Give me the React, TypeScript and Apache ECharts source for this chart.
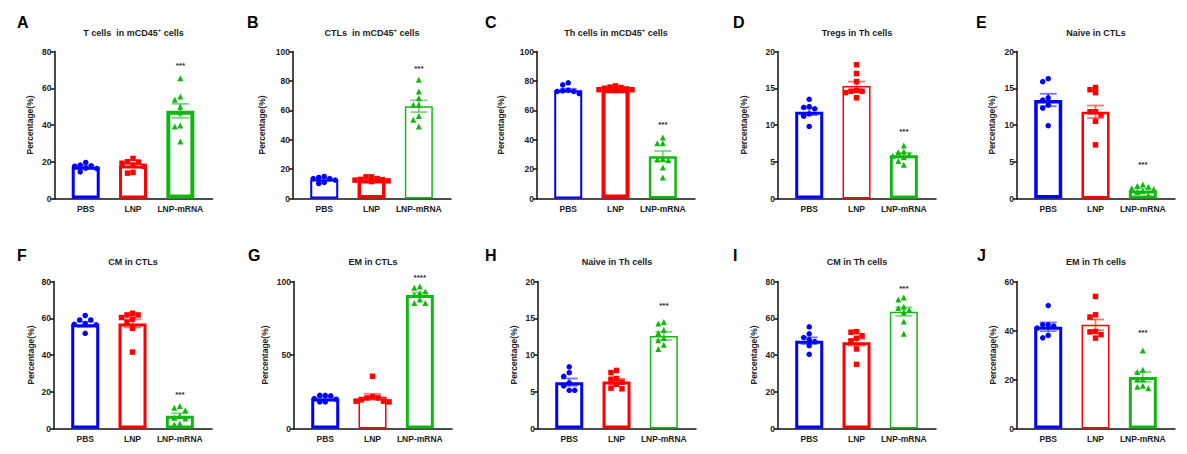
import React, { useEffect, useRef } from "react";
import * as echarts from "echarts";

const groups = ["PBS", "LNP", "LNP-mRNA"];
const groupColors = ["#0000ff", "#ff0000", "#12b812"];
const groupSymbols = ["circle", "rect", "triangle"];

const letters = ["A", "B", "C", "D", "E", "F", "G", "H", "I", "J"];
const titles = [
  "T cells  in mCD45{sup|+} cells",
  "CTLs  in mCD45{sup|+} cells",
  "Th cells in mCD45{sup|+} cells",
  "Tregs in Th cells",
  "Naive in CTLs",
  "CM in CTLs",
  "EM in CTLs",
  "Naive in Th cells",
  "CM in Th cells",
  "EM in Th cells",
];
const yMaxes = [80, 100, 100, 20, 20, 80, 100, 20, 80, 60];
const ySteps = [20, 20, 20, 5, 5, 20, 50, 5, 20, 20];
const yName = "Percentage(%)";

// Individual points per panel: [PBS, LNP, LNP-mRNA]
const pointsA = [
  [18.2, 16.3, 14.5, 17.8, 19.6, 16.5, 17.6],
  [19.8, 21.8, 13.8, 14.2, 19.2, 20.0, 18.2, 17.5],
  [65.5, 53.7, 55.5, 50.0, 46.8, 39.2, 39.7, 31.0],
];
const pointsB = [
  [15.0, 10.2, 13.6, 14.3, 10.9, 13.6, 12.5],
  [14.7, 12.0, 13.0, 13.5, 12.5, 14.7, 11.5, 12.8],
  [80.7, 72.8, 68.3, 63.7, 63.7, 56.2, 53.5, 49.0],
];
const pointsC = [
  [78.7, 77.3, 72.8, 73.7, 73.2, 72.8, 71.4],
  [76.6, 75.0, 74.0, 75.5, 73.5, 74.5, 75.8, 74.0],
  [41.5, 37.6, 37.6, 26.8, 26.5, 26.0, 21.1, 14.3],
];
const pointsD = [
  [13.5, 12.5, 12.4, 12.2, 11.5, 11.2, 9.8],
  [18.2, 17.0, 15.9, 14.7, 14.6, 14.4, 14.6, 13.7],
  [7.2, 6.4, 6.3, 6.0, 5.8, 5.6, 5.1, 4.6],
];
const pointsE = [
  [16.3, 15.9, 13.7, 13.4, 12.7, 12.3, 9.9],
  [15.1, 14.8, 14.4, 11.8, 11.8, 11.4, 10.5, 7.3],
  [1.9, 1.6, 1.4, 1.0, 0.9, 0.45, 1.3, 1.7],
];
const pointsF = [
  [61.5, 59.1, 59.1, 57.1, 56.7, 56.4, 51.8],
  [62.7, 61.8, 61.8, 60.4, 59.5, 57.8, 54.5, 41.6],
  [12.2, 11.3, 10.0, 6.9, 5.8, 5.5, 2.2, 2.7],
];
const pointsG = [
  [22.6, 22.2, 22.6, 20.4, 19.9, 18.1, 18.1],
  [35.5, 21.5, 20.8, 20.8, 18.6, 18.6, 18.1, 19.5],
  [96.6, 95.7, 93.2, 92.1, 91.0, 87.8, 85.3, 85.3],
];
const pointsH = [
  [8.4, 7.6, 7.1, 6.2, 5.8, 5.2, 5.2],
  [7.9, 7.6, 6.8, 6.7, 6.3, 6.0, 5.4, 5.5],
  [14.5, 14.3, 13.4, 13.0, 12.3, 12.0, 11.4, 10.8],
];
const pointsI = [
  [55.3, 51.5, 49.5, 48.2, 47.3, 45.1, 40.4],
  [52.7, 52.4, 50.5, 49.1, 47.6, 43.3, 34.9],
  [71.3, 70.2, 66.2, 65.6, 64.5, 63.3, 58.2, 51.6],
];
const pointsJ = [
  [50.2, 42.3, 42.3, 41.8, 41.0, 38.0, 37.0],
  [53.9, 46.4, 45.5, 39.6, 39.4, 38.3, 36.9],
  [31.8, 24.0, 23.1, 20.1, 20.1, 17.4, 17.0, 16.4],
];
const allPoints = [pointsA, pointsB, pointsC, pointsD, pointsE, pointsF, pointsG, pointsH, pointsI, pointsJ];

// Bar means and SEM per panel
const means = [
  [17.3, 18.0, 47.7],
  [12.9, 12.6, 62.8],
  [73.7, 74.4, 28.8],
  [11.8, 15.3, 5.9],
  [13.4, 11.8, 1.1],
  [56.7, 57.2, 6.9],
  [20.4, 21.6, 90.9],
  [6.3, 6.4, 12.6],
  [47.8, 46.9, 63.6],
  [41.5, 42.3, 21.0],
];
const sems = [
  [0.7, 1.0, 3.8],
  [0.7, 0.5, 4.0],
  [1.0, 0.5, 3.5],
  [0.45, 0.6, 0.3],
  [0.85, 0.85, 0.25],
  [1.4, 2.2, 1.4],
  [0.7, 2.0, 1.5],
  [0.5, 0.35, 0.55],
  [1.8, 1.8, 2.3],
  [1.8, 2.2, 2.0],
];
const starY = [72.5, 88.4, 50.6, 9.1, 4.6, 18.5, 102.7, 16.8, 76.4, 39.3];
const starText = ["***", "***", "***", "***", "***", "***", "****", "***", "***", "***"];

// Layout / style
const gridLefts = [54.5, 293, 537, 778, 1017, 54, 294, 538, 778, 1017];
const gridW = 158;
const rowTops = [51.5, 281.5];
const gridH = 147;
const xMin = -0.66;
const xMax = 2.68;
const nameGaps = [20, 27, 32, 30, 21, 19, 25, 20, 20, 20];
const borderWidths = [
  [3, 3, 4], [2, 3.5, 1.5], [2, 4, 2.5], [3, 1.5, 3], [3.5, 2.5, 3],
  [3, 3, 3], [3, 1.5, 3], [3, 3, 1.5], [3, 3, 1.5], [3, 1.5, 3],
];
const letterX = [17, 247, 485, 733, 976, 17, 248, 485, 733, 977];
const letterY = [14, 247];
const titleY = [33, 262];
const FONT = "Arial, 'Liberation Sans', sans-serif";

// Deterministic beeswarm layout so overlapping dots spread sideways
function swarmOffsets(values: number[], yMax: number): number[] {
  const pxPerX = gridW / (xMax - xMin);
  const pxPerY = gridH / yMax;
  const order = values.map((_, i) => i).sort((a, b) => values[b] - values[a]);
  const placed: { dx: number; v: number }[] = [];
  const offs = new Array(values.length).fill(0);
  const cands = [0, -1, 1, -2, 2, -3, 3];
  const step = 5.5;
  const minDist = 5;
  for (const i of order) {
    let best = 0;
    let bestD = -1;
    for (const c of cands) {
      const dx = c * step;
      let d = Infinity;
      for (const p of placed) d = Math.min(d, Math.hypot(p.dx - dx, (p.v - values[i]) * pxPerY));
      if (d >= minDist) {
        best = dx;
        bestD = Infinity;
        break;
      }
      if (d > bestD) {
        bestD = d;
        best = dx;
      }
    }
    offs[i] = best / pxPerX;
    placed.push({ dx: best, v: values[i] });
  }
  return offs;
}

function buildOption() {
  const grid: any[] = [];
  const xAxis: any[] = [];
  const yAxis: any[] = [];
  const series: any[] = [];
  const graphic: any[] = [];

  for (let p = 0; p < 10; p++) {
    const row = p < 5 ? 0 : 1;
    grid.push({ left: gridLefts[p], top: rowTops[row], width: gridW, height: gridH });
    xAxis.push({
      type: "value",
      gridIndex: p,
      min: xMin,
      max: xMax,
      splitLine: { show: false },
      axisLine: { show: true, onZero: false, lineStyle: { color: "#111", width: 1.5 } },
      axisTick: { show: false },
      axisLabel: {
        customValues: [0, 1, 2],
        formatter: (v: number) => groups[Math.round(v)] ?? "",
        margin: 6,
        color: "#222",
        fontSize: 8.5,
        fontWeight: "bold",
        fontFamily: FONT,
      },
    });
    yAxis.push({
      type: "value",
      gridIndex: p,
      min: 0,
      max: yMaxes[p],
      interval: ySteps[p],
      name: yName,
      nameLocation: "middle",
      nameGap: nameGaps[p],
      nameTextStyle: { color: "#222", fontSize: 8.5, fontWeight: "bold", fontFamily: FONT },
      splitLine: { show: false },
      axisLine: { show: true, onZero: false, lineStyle: { color: "#111", width: 1.5 } },
      axisTick: { show: true, length: 4, lineStyle: { color: "#111", width: 1.5 } },
      axisLabel: { margin: 3, color: "#222", fontSize: 8.5, fontWeight: "bold", fontFamily: FONT },
    });

    // Bars
    series.push({
      type: "bar",
      xAxisIndex: p,
      yAxisIndex: p,
      barWidth: 28,
      z: 2,
      data: groups.map((_, i) => ({
        value: [i, means[p][i]],
        itemStyle: { color: "#ffffff", borderColor: groupColors[i], borderWidth: borderWidths[p][i] },
      })),
    });

    // Points
    groups.forEach((_, i) => {
      const vals = allPoints[p][i];
      const offs = swarmOffsets(vals, yMaxes[p]);
      series.push({
        type: "scatter",
        xAxisIndex: p,
        yAxisIndex: p,
        symbol: groupSymbols[i],
        symbolSize: i === 2 ? 6 : 5.5,
        z: 3,
        itemStyle: { color: groupColors[i], opacity: 1 },
        data: vals.map((v, k) => [i + offs[k], v]),
      });
    });

    // Error bars (mean ± SEM)
    series.push({
      type: "custom",
      xAxisIndex: p,
      yAxisIndex: p,
      z: 4,
      data: groups.map((_, i) => [i, means[p][i], sems[p][i]]),
      renderItem: (params: any, api: any) => {
        const x = api.value(0);
        const m = api.value(1);
        const s = api.value(2);
        const top = api.coord([x, m + s]);
        const bot = api.coord([x, m - s]);
        const hw = 8.5;
        const style = { stroke: groupColors[params.dataIndex], lineWidth: 1.8, opacity: 0.55 };
        return {
          type: "group",
          children: [
            { type: "line", shape: { x1: top[0], y1: top[1], x2: bot[0], y2: bot[1] }, style },
            { type: "line", shape: { x1: top[0] - hw, y1: top[1], x2: top[0] + hw, y2: top[1] }, style },
            { type: "line", shape: { x1: bot[0] - hw, y1: bot[1], x2: bot[0] + hw, y2: bot[1] }, style },
          ],
        };
      },
    });

    // Significance stars
    series.push({
      type: "custom",
      xAxisIndex: p,
      yAxisIndex: p,
      z: 5,
      clip: false,
      data: [[2, starY[p]]],
      renderItem: (params: any, api: any) => {
        const pt = api.coord([api.value(0), api.value(1)]);
        return {
          type: "text",
          x: pt[0],
          y: pt[1],
          style: {
            text: starText[p],
            align: "center",
            verticalAlign: "middle",
            fill: "#1a1a3a",
            font: `bold 8px ${FONT}`,
          },
        };
      },
    });

    // Title
    graphic.push({
      type: "text",
      x: gridLefts[p] + gridW / 2,
      y: titleY[row],
      style: {
        text: titles[p],
        align: "center",
        verticalAlign: "middle",
        fill: "#222",
        font: `bold 9px ${FONT}`,
        rich: {
          sup: { fontSize: 6, fontWeight: "bold", fill: "#222", padding: [0, 0, 6, 0], fontFamily: FONT },
        },
      },
    });
    // Panel letter
    graphic.push({
      type: "text",
      x: letterX[p],
      y: letterY[row],
      style: { text: letters[p], fill: "#000", font: `bold 16px ${FONT}` },
    });
  }

  return { animation: false, backgroundColor: "#ffffff", grid, xAxis, yAxis, series, graphic };
}

export default function App() {
  const ref = useRef<HTMLDivElement>(null);
  useEffect(() => {
    if (!ref.current) return;
    const chart = echarts.init(ref.current, undefined, { renderer: "svg" });
    chart.setOption(buildOption() as any);
    return () => chart.dispose();
  }, []);
  return (
    <div
      ref={ref}
      style={{ position: "fixed", left: 0, top: 0, width: 1187, height: 454, background: "#fff" }}
    />
  );
}
